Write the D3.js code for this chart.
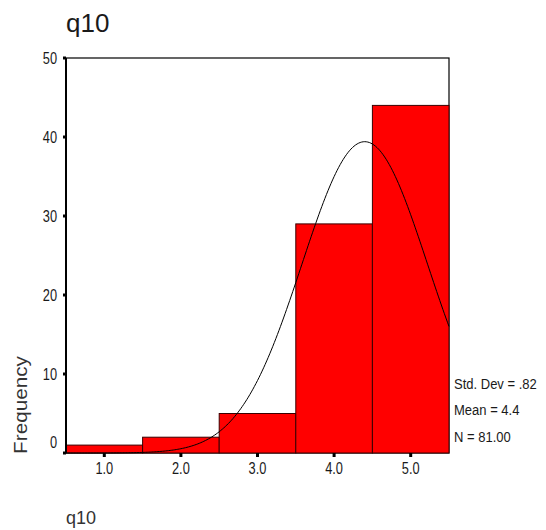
<!DOCTYPE html>
<html>
<head>
<meta charset="utf-8">
<script src="https://cdn.jsdelivr.net/npm/d3@7"></script>
<style>
    body { margin: 0; background: #fff; }
    svg { font-family: "Liberation Sans", Arial, sans-serif; }
</style>
</head>
<body>
<div id="chart"></div>
<script>
// Histogram of q10
const bins = [1, 2, 3, 4, 5];
const counts = [1, 2, 5, 29, 44];
const yTicks = [0, 10, 20, 30, 40, 50];
const stats = { sd: 0.82, mean: 4.4, n: 81 };
const statLabels = ["Std. Dev = .82", "Mean = 4.4", "N = 81.00"];

const width = 546;
const height = 530;
const margin = { top: 58, right: 97, bottom: 77, left: 66 };
const textColor = "#1a1a1a";

const svg = d3.select("#chart").append("svg")
    .attr("width", width)
    .attr("height", height);

const x = d3.scaleLinear()
    .domain([0.5, 5.5])
    .range([margin.left, width - margin.right]);

const y = d3.scaleLinear()
    .domain([0, 50])
    .range([height - margin.bottom, margin.top]);

// Squeeze text horizontally, like the narrow font of the original
function condense(sel, factor) {
    sel.each(function() {
        const w = this.getComputedTextLength();
        d3.select(this)
            .attr("textLength", w * factor)
            .attr("lengthAdjust", "spacingAndGlyphs");
    });
}

// Title
svg.append("text")
    .attr("x", 66)
    .attr("y", 32)
    .attr("font-size", 26)
    .attr("fill", textColor)
    .text("q10");

// Plot frame
svg.append("rect")
    .attr("x", x(0.5))
    .attr("y", y(50))
    .attr("width", x(5.5) - x(0.5))
    .attr("height", y(0) - y(50))
    .attr("fill", "none")
    .attr("stroke", "#000")
    .attr("stroke-width", 1.2);

// Bars
svg.selectAll("rect.bar")
    .data(bins)
    .enter()
    .append("rect")
    .attr("class", "bar")
    .attr("x", d => x(d - 0.5))
    .attr("y", (d, i) => y(counts[i]))
    .attr("width", d => x(d + 0.5) - x(d - 0.5))
    .attr("height", (d, i) => y(0) - y(counts[i]))
    .attr("fill", "#ff0000")
    .attr("stroke", "#3a0000")
    .attr("stroke-width", 1);

// Fitted normal curve from the reported stats
const pdf = v => stats.n / (stats.sd * Math.sqrt(2 * Math.PI)) *
    Math.exp(-0.5 * Math.pow((v - stats.mean) / stats.sd, 2));
const xs = d3.range(0.5, 5.5001, 0.02);
const line = d3.line()
    .x(d => x(d))
    .y(d => y(pdf(d)));
svg.append("path")
    .datum(xs)
    .attr("d", line)
    .attr("fill", "none")
    .attr("stroke", "#000")
    .attr("stroke-width", 1);

// Y axis
const yAxis = svg.append("g").attr("transform", `translate(${x(0.5)},0)`);
yAxis.append("line")
    .attr("y1", y(0)).attr("y2", y(50))
    .attr("stroke", "#000").attr("stroke-width", 2);
yAxis.selectAll("line.tick")
    .data(yTicks)
    .enter()
    .append("line")
    .attr("class", "tick")
    .attr("x1", -3).attr("x2", 0)
    .attr("y1", d => y(d)).attr("y2", d => y(d))
    .attr("stroke", "#000").attr("stroke-width", 3);
yAxis.selectAll("text")
    .data(yTicks)
    .enter()
    .append("text")
    .attr("x", -9)
    .attr("y", d => y(d) + (d === 0 ? -11 : 0))
    .attr("dy", "0.36em")
    .attr("text-anchor", "end")
    .attr("font-size", 16)
    .attr("fill", textColor)
    .text(d => d)
    .call(condense, 0.8);

// X axis
const xAxis = svg.append("g").attr("transform", `translate(0,${y(0)})`);
xAxis.selectAll("line")
    .data(bins)
    .enter()
    .append("line")
    .attr("x1", d => x(d)).attr("x2", d => x(d))
    .attr("y1", 0).attr("y2", 4)
    .attr("stroke", "#000").attr("stroke-width", 3);
xAxis.selectAll("text")
    .data(bins)
    .enter()
    .append("text")
    .attr("x", d => x(d))
    .attr("y", 21)
    .attr("text-anchor", "middle")
    .attr("font-size", 16)
    .attr("fill", textColor)
    .text(d => d3.format(".1f")(d))
    .call(condense, 0.8);

// Axis titles
svg.append("text")
    .attr("transform", `translate(27,405) rotate(-90)`)
    .attr("text-anchor", "middle")
    .attr("font-size", 18)
    .attr("fill", "#333")
    .text("Frequency")
    .call(condense, 1.15);

svg.append("text")
    .attr("x", 66)
    .attr("y", 524)
    .attr("font-size", 18)
    .attr("fill", "#333")
    .text("q10");

// Stats box, squeezed with a transform so its box stays inside the page
svg.selectAll("text.stat")
    .data(statLabels)
    .enter()
    .append("text")
    .attr("class", "stat")
    .attr("transform", (d, i) => `translate(${x(5.5) + 5},${383 + i * 26.5}) scale(0.84,1)`)
    .attr("dy", "0.36em")
    .attr("font-size", 15.5)
    .attr("fill", textColor)
    .text(d => d);
</script>
</body>
</html>
